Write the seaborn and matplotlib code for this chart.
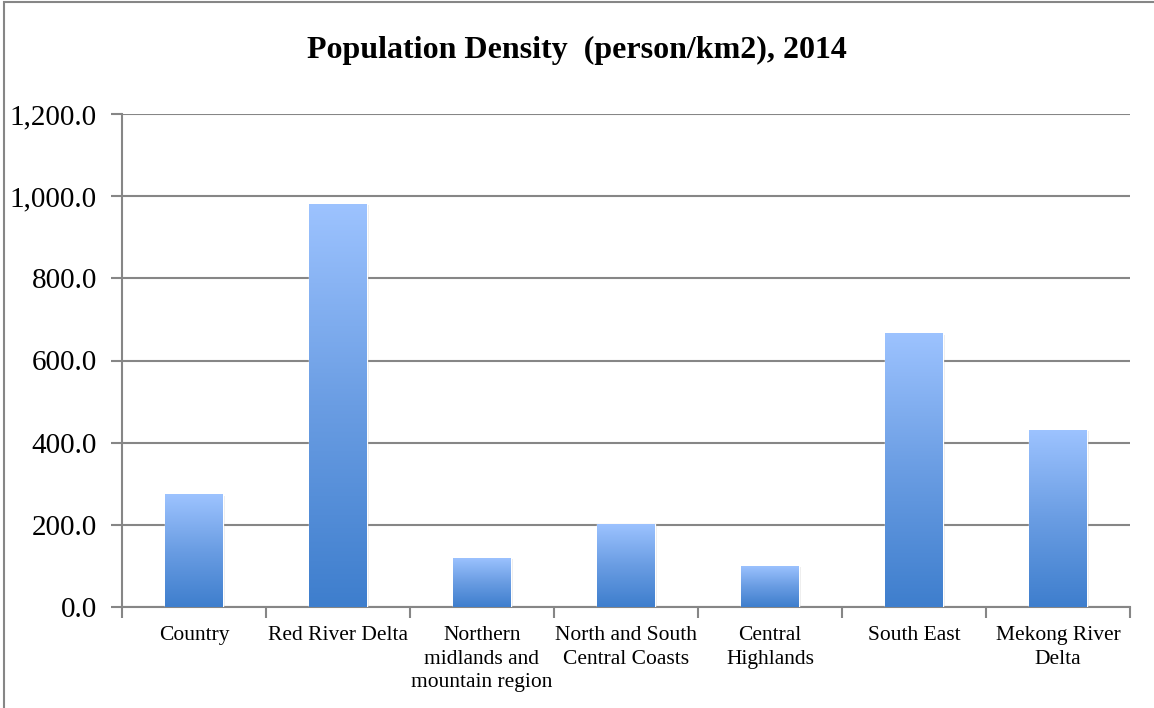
import numpy as np
import pandas as pd
import matplotlib
matplotlib.use("Agg")
import matplotlib.pyplot as plt
import matplotlib.ticker as mticker
from matplotlib.patches import Rectangle
import seaborn as sns

# Data
regions = ["Country", "Red River Delta", "Northern\nmidlands and\nmountain region",
           "North and South\nCentral Coasts", "Central\nHighlands", "South East",
           "Mekong River\nDelta"]
density = [274, 982, 120, 203, 101, 667, 432]
y_ticks = [0, 200, 400, 600, 800, 1000, 1200]

df = pd.DataFrame({"region": regions, "density": density})

sns.set_style("white")
plt.rcParams["font.family"] = ["Liberation Serif", "DejaVu Serif"]
plt.rcParams["text.color"] = "black"
plt.rcParams["xtick.labelcolor"] = "black"
plt.rcParams["ytick.labelcolor"] = "black"

fig = plt.figure(figsize=(11.54, 7.08), dpi=100)
ax = fig.add_axes([122 / 1154, 1 - 607 / 708, (1130 - 122) / 1154, (607 - 114) / 708])

sns.barplot(data=df, x="region", y="density", width=0.40, color="#9dc3ff",
            ax=ax, zorder=3)

# gradient fill on each bar (light top -> darker bottom)
grad = np.linspace(0, 1, 256).reshape(-1, 1)
cmap = matplotlib.colors.LinearSegmentedColormap.from_list("bar", ["#3e7ecd", "#6a9de3", "#9dc3ff"])
for p in ax.patches:
    x0, w, h = p.get_x(), p.get_width(), p.get_height()
    # soft shadow
    ax.add_patch(Rectangle((x0 + 0.012, 0), w, h - 4, facecolor="#000000", alpha=0.08,
                           edgecolor="none", zorder=2))
    im = ax.imshow(grad, extent=[x0, x0 + w, 0, h], origin="lower", cmap=cmap,
                   aspect="auto", zorder=4)
    im.set_clip_path(p)
    p.set_facecolor("none")

ax.set_xlim(-0.5, len(regions) - 0.5)
ax.set_ylim(0, 1200)
ax.set_yticks(y_ticks)
ax.yaxis.set_major_formatter(mticker.FuncFormatter(lambda v, _: f"{v:,.1f}"))
ax.grid(axis="y", color="#868686", linewidth=1.5, zorder=0)
ax.set_axisbelow(True)

for s in ["top", "right"]:
    ax.spines[s].set_visible(False)
for s in ["left", "bottom"]:
    ax.spines[s].set_color("#868686")
    ax.spines[s].set_linewidth(1.5)

ax.tick_params(axis="y", length=8, width=1.5, color="#868686", labelsize=21, pad=10, left=True,
               labelcolor="black")
ax.set_xticks(range(len(regions)))
ax.set_xticklabels(regions, fontsize=15.5, linespacing=1.3)
ax.tick_params(axis="x", length=0, pad=14, labelcolor="black")
# category boundary ticks
ax.set_xticks(np.arange(-0.5, len(regions), 1), minor=True)
ax.tick_params(axis="x", which="minor", length=8, width=1.5, color="#868686", bottom=True)

ax.set_xlabel("")
ax.set_ylabel("")
fig.text(0.5, 1 - 50 / 708, "Population Density  (person/km2), 2014", ha="center", va="center",
         fontsize=23, fontweight="bold", color="black")

# outer chart border
fig.patches.append(Rectangle((4 / 1154, -0.01), 1.02, 1 - 1.5 / 708 + 0.01, transform=fig.transFigure,
                             fill=False, edgecolor="#868686", linewidth=1.5))

fig.savefig("out.png", dpi=100)
